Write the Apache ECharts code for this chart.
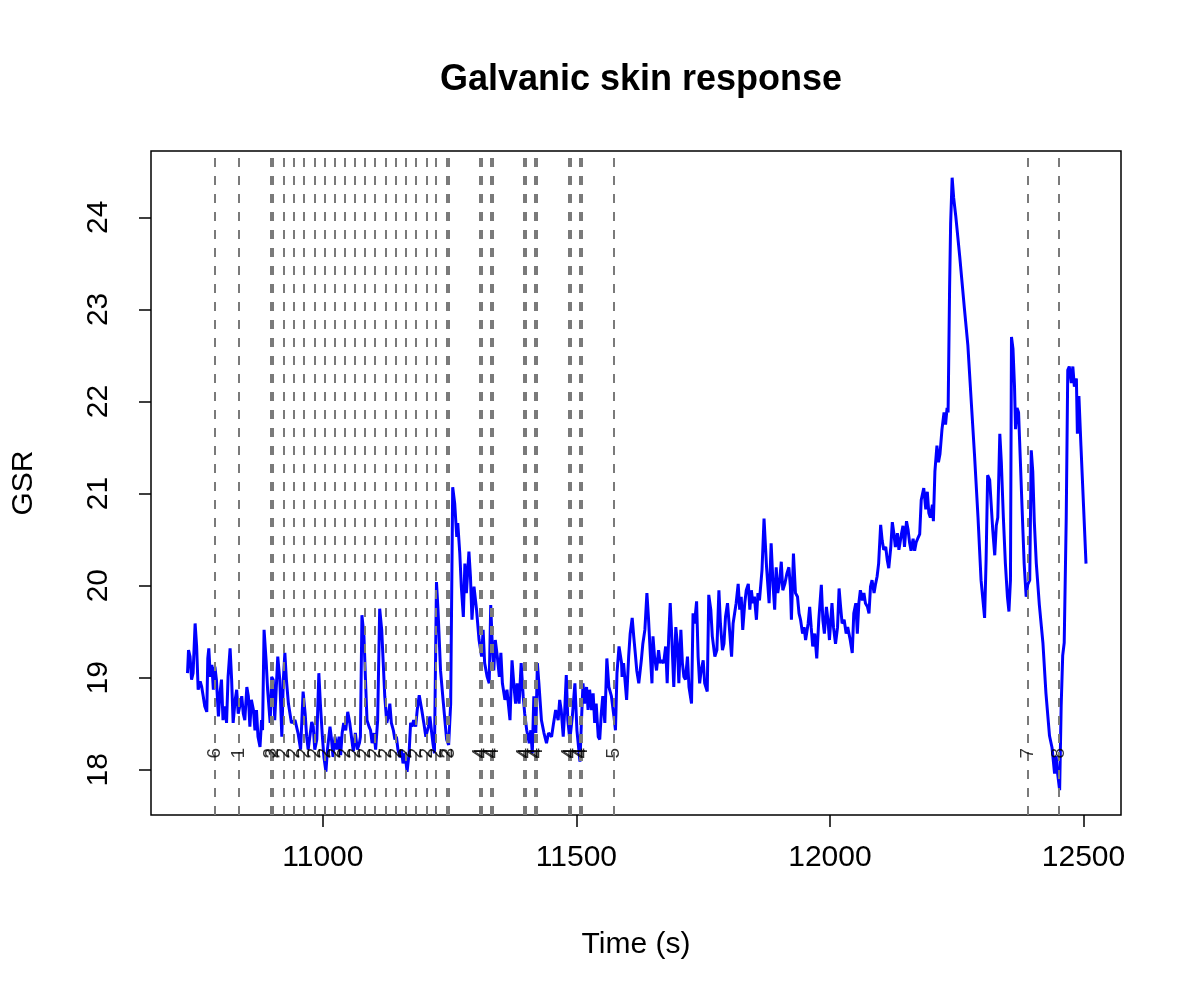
<!DOCTYPE html>
<html>
<head>
<meta charset="utf-8">
<title>Galvanic skin response</title>
<script src="https://cdn.jsdelivr.net/npm/echarts@6/dist/echarts.min.js"></script>
<style>
  html, body { margin: 0; padding: 0; background: #fff; }
  #chart { width: 1200px; height: 1004px; }
</style>
</head>
<body>
<div id="chart"></div>
<script>
// time in seconds, GSR
const times = [
  10733, 10735, 10738, 10741, 10744, 10748, 10751, 10754, 10758, 10761, 10764, 10767, 10771, 10773, 10775, 10778,
  10781, 10784, 10787, 10790, 10794, 10797, 10800, 10803, 10807, 10810, 10813, 10817, 10820, 10823, 10827, 10830,
  10833, 10836, 10840, 10843, 10846, 10850, 10853, 10856, 10859, 10863, 10866, 10869, 10872, 10876, 10879, 10881,
  10884, 10888, 10891, 10896, 10899, 10902, 10905, 10911, 10915, 10919, 10922, 10925, 10928, 10932, 10938, 10945,
  10951, 10956, 10961, 10965, 10968, 10971, 10978, 10981, 10984, 10988, 10992, 10995, 10999, 11002, 11006, 11009,
  11014, 11017, 11020, 11024, 11028, 11032, 11035, 11038, 11041, 11045, 11049, 11053, 11057, 11060, 11064, 11068,
  11072, 11074, 11077, 11081, 11084, 11087, 11091, 11094, 11097, 11101, 11104, 11108, 11112, 11116, 11119, 11122,
  11126, 11129, 11132, 11135, 11139, 11142, 11145, 11148, 11152, 11155, 11158, 11162, 11166, 11170, 11173, 11176,
  11179, 11183, 11186, 11190, 11195, 11199, 11203, 11208, 11211, 11214, 11217, 11220, 11224, 11227, 11232, 11237,
  11244, 11248, 11252, 11256, 11260, 11264, 11266, 11270, 11273, 11277, 11280, 11283, 11288, 11291, 11294, 11298,
  11303, 11308, 11313, 11316, 11319, 11324, 11328, 11331, 11334, 11337, 11340, 11344, 11348, 11351, 11354, 11359,
  11363, 11369, 11373, 11377, 11380, 11383, 11387, 11391, 11395, 11398, 11402, 11407, 11410, 11413, 11416, 11420,
  11423, 11426, 11431, 11436, 11441, 11445, 11451, 11455, 11459, 11464, 11467, 11470, 11474, 11477, 11480, 11483,
  11487, 11492, 11497, 11501, 11507, 11510, 11513, 11516, 11520, 11523, 11526, 11530, 11533, 11536, 11539, 11543,
  11546, 11549, 11552, 11556, 11560, 11564, 11569, 11574, 11577, 11580, 11584, 11589, 11590, 11593, 11599, 11603,
  11606, 11610, 11613, 11616, 11619, 11623, 11628, 11631, 11635, 11639, 11642, 11646, 11649, 11651, 11654, 11658,
  11662, 11665, 11668, 11672, 11676, 11679, 11682, 11685, 11688, 11692, 11696, 11699, 11702, 11706, 11709, 11712,
  11715, 11719, 11722, 11727, 11730, 11733, 11737, 11740, 11743, 11746, 11750, 11753, 11758, 11761, 11765, 11768,
  11773, 11777, 11781, 11784, 11788, 11791, 11794, 11798, 11802, 11806, 11809, 11812, 11815, 11819, 11822, 11825,
  11828, 11832, 11835, 11839, 11842, 11845, 11848, 11851, 11855, 11858, 11861, 11866, 11870, 11875, 11880, 11884,
  11888, 11891, 11894, 11897, 11901, 11904, 11907, 11911, 11915, 11919, 11922, 11924, 11928, 11932, 11936, 11939,
  11942, 11946, 11949, 11952, 11957, 11960, 11963, 11966, 11970, 11974, 11978, 11983, 11986, 11989, 11993, 11996,
  11999, 12004, 12007, 12011, 12015, 12018, 12021, 12024, 12028, 12032, 12035, 12040, 12044, 12047, 12051, 12054,
  12057, 12060, 12064, 12067, 12070, 12074, 12077, 12080, 12083, 12087, 12090, 12093, 12096, 12100, 12103, 12106,
  12110, 12113, 12116, 12120, 12123, 12126, 12129, 12133, 12136, 12141, 12144, 12147, 12151, 12154, 12157, 12160,
  12164, 12167, 12170, 12173, 12177, 12180, 12185, 12189, 12192, 12195, 12198, 12202, 12204, 12207, 12211, 12214,
  12217, 12221, 12225, 12228, 12231, 12233, 12236, 12238, 12241, 12244, 12248, 12256, 12265, 12272, 12279, 12285,
  12292, 12298, 12305, 12308, 12311, 12315, 12318, 12321, 12325, 12328, 12331, 12335, 12338, 12342, 12346, 12350,
  12353, 12356, 12358, 12361, 12364, 12366, 12369, 12372, 12375, 12379, 12383, 12387, 12390, 12394, 12397, 12400,
  12403, 12407, 12413, 12420, 12426, 12433, 12438, 12443, 12446, 12449, 12453, 12456, 12459, 12462, 12466, 12469,
  12472, 12476, 12479, 12482, 12486, 12488, 12491, 12495, 12500, 12505
]
const gsr = [
  19.05, 19.30, 19.23, 18.98, 19.05, 19.59, 19.34, 18.87, 18.96, 18.90, 18.80, 18.69, 18.63, 19.21, 19.32, 19.01,
  19.14, 18.87, 19.12, 18.98, 18.58, 18.83, 18.98, 18.54, 18.69, 18.51, 19.01, 19.32, 18.98, 18.51, 18.76, 18.87,
  18.61, 18.69, 18.80, 18.61, 18.54, 18.90, 18.80, 18.47, 18.76, 18.65, 18.43, 18.65, 18.36, 18.25, 18.54, 18.43,
  19.52, 19.19, 18.87, 18.51, 19.01, 18.98, 18.54, 19.23, 18.98, 18.36, 18.98, 19.27, 18.98, 18.72, 18.51, 18.54,
  18.40, 18.22, 18.85, 18.61, 18.36, 18.22, 18.52, 18.47, 18.22, 18.33, 19.05, 18.72, 18.36, 18.14, 17.98, 18.22,
  18.47, 18.33, 18.14, 18.36, 18.22, 18.36, 18.16, 18.40, 18.51, 18.43, 18.63, 18.51, 18.33, 18.20, 18.40, 18.22,
  18.29, 18.36, 19.68, 19.45, 18.98, 18.54, 18.47, 18.43, 18.29, 18.40, 18.22, 18.54, 19.75, 19.52, 19.16, 18.80,
  18.51, 18.58, 18.72, 18.51, 18.43, 18.33, 18.36, 18.22, 18.14, 18.22, 18.07, 18.18, 17.98, 18.18, 18.51, 18.47,
  18.54, 18.47, 18.65, 18.81, 18.65, 18.51, 18.36, 18.47, 18.58, 18.43, 18.29, 18.18, 20.04, 19.74, 19.08, 18.76,
  18.33, 18.27, 18.72, 21.07, 20.89, 20.53, 20.68, 20.35, 19.99, 19.66, 20.24, 19.92, 20.37, 20.10, 19.63, 19.99,
  19.74, 19.41, 19.23, 19.52, 19.16, 19.01, 18.94, 19.79, 19.37, 19.08, 19.41, 19.23, 19.01, 19.27, 18.94, 18.76,
  18.87, 18.54, 19.19, 18.90, 18.72, 18.94, 18.72, 19.16, 18.80, 18.61, 18.43, 18.29, 18.43, 18.18, 18.80, 18.40,
  19.16, 18.94, 18.54, 18.40, 18.29, 18.40, 18.36, 18.51, 18.65, 18.54, 18.76, 18.65, 18.36, 18.65, 19.03, 18.54,
  18.33, 18.58, 18.94, 18.43, 18.09, 18.54, 18.94, 18.72, 18.90, 18.65, 18.87, 18.65, 18.83, 18.51, 18.72, 18.36,
  18.33, 18.61, 18.80, 18.51, 19.21, 18.90, 18.80, 18.58, 18.43, 19.05, 19.34, 19.16, 19.01, 19.16, 18.76, 19.23,
  19.48, 19.65, 19.45, 19.27, 19.08, 18.94, 19.19, 19.37, 19.52, 19.92, 19.66, 19.23, 18.94, 19.45, 19.23, 19.08,
  19.30, 19.16, 19.19, 19.16, 19.34, 18.94, 19.45, 19.81, 19.45, 18.90, 19.55, 19.37, 18.94, 19.52, 19.16, 19.01,
  18.98, 19.23, 18.90, 18.72, 19.70, 19.59, 19.83, 19.23, 18.94, 19.08, 19.19, 18.94, 18.85, 19.90, 19.74, 19.45,
  19.23, 19.30, 19.95, 19.59, 19.30, 19.37, 19.66, 19.81, 19.52, 19.23, 19.59, 19.70, 19.81, 20.02, 19.74, 19.88,
  19.52, 19.81, 19.95, 20.02, 19.74, 19.95, 19.81, 19.88, 19.63, 19.92, 19.84, 20.17, 20.73, 20.20, 19.81, 20.46,
  19.99, 19.74, 20.20, 19.92, 20.06, 20.26, 19.95, 20.02, 20.13, 20.20, 19.99, 19.63, 20.35, 19.92, 19.88, 19.70,
  19.63, 19.48, 19.55, 19.41, 19.59, 19.77, 19.55, 19.34, 19.48, 19.21, 19.63, 20.01, 19.63, 19.48, 19.77, 19.63,
  19.41, 19.81, 19.55, 19.37, 19.55, 19.97, 19.77, 19.59, 19.63, 19.48, 19.55, 19.41, 19.27, 19.70, 19.81, 19.48,
  19.81, 19.95, 19.84, 19.92, 19.81, 19.77, 19.70, 19.99, 20.06, 19.92, 20.02, 20.10, 20.24, 20.66, 20.49, 20.39,
  20.42, 20.28, 20.19, 20.42, 20.69, 20.57, 20.42, 20.57, 20.39, 20.56, 20.65, 20.42, 20.70, 20.61, 20.47, 20.38,
  20.51, 20.38, 20.47, 20.51, 20.56, 20.93, 21.06, 20.83, 21.02, 20.79, 20.74, 20.88, 20.70, 21.24, 21.52, 21.34,
  21.43, 21.70, 21.88, 21.75, 21.93, 21.88, 23.25, 23.93, 24.43, 24.21, 24.02, 23.57, 23.02, 22.61, 21.97, 21.43,
  20.74, 20.06, 19.65, 20.29, 21.20, 21.15, 20.88, 20.61, 20.33, 20.65, 20.74, 21.65, 21.34, 20.74, 20.24, 19.88,
  19.72, 20.06, 22.70, 22.57, 22.16, 21.70, 21.93, 21.88, 21.43, 20.83, 20.24, 19.88, 20.01, 20.06, 21.47, 21.24,
  20.70, 20.24, 19.79, 19.38, 18.83, 18.37, 18.24, 17.96, 18.15, 17.96, 17.78, 18.69, 19.24, 19.38, 20.74, 22.34,
  22.38, 22.20, 22.38, 22.16, 22.25, 21.65, 22.06, 21.52, 20.88, 20.24
]

// event markers (vertical dashed lines) and their codes
const eventTimes = [
  10786, 10834, 10897, 10902, 10923, 10943, 10963, 10983, 11003, 11023, 11043, 11063, 11083, 11103, 11124,
  11143, 11164, 11183, 11204, 11223, 11244, 11249, 11309, 11313, 11331, 11335, 11396, 11400, 11418, 11422,
  11485, 11489, 11507, 11511, 11574, 12390, 12451
]
const eventLabels = [
  '6', '1', '3', '2', '2', '2', '2', '2', '2', '2', '2', '2', '2', '2', '2',
  '2', '2', '2', '2', '2', '2', '3', '4', '4', '4', '4', '4', '4', '4', '4',
  '4', '4', '4', '4', '5', '7', '8'
]
const eventLabelY = 18.18

const xTicks = [11000, 11500, 12000, 12500]
const yTicks = [18, 19, 20, 21, 22, 23, 24]

const FONT = "'Liberation Sans', Arial, Helvetica, sans-serif"

const chart = echarts.init(document.getElementById('chart'), null, { renderer: 'canvas' })

const option = {
  animation: false,
  backgroundColor: '#ffffff',
  textStyle: { fontFamily: FONT },
  title: {
    text: 'Galvanic skin response',
    left: 636,
    top: 57,
    textAlign: 'center',
    textStyle: { fontFamily: FONT, fontSize: 36, fontWeight: 'bold', color: '#000' },
  },
  grid: {
    left: 151,
    top: 151,
    width: 970,
    height: 664,
    show: true,
    borderColor: '#000',
    borderWidth: 1.5,
    backgroundColor: 'transparent',
  },
  xAxis: {
    type: 'value',
    min: 10661,
    max: 12574,
    name: 'Time (s)',
    nameLocation: 'middle',
    nameGap: 115,
    nameTextStyle: { fontFamily: FONT, fontSize: 30, color: '#000' },
    axisLine: { show: false },
    axisTick: {
      show: true,
      customValues: xTicks,
      length: 12,
      lineStyle: { color: '#000', width: 1.5 },
    },
    axisLabel: {
      customValues: xTicks,
      formatter: (v) => String(v),
      margin: 28,
      fontFamily: FONT,
      fontSize: 30,
      color: '#000',
    },
    splitLine: { show: false },
  },
  yAxis: {
    type: 'value',
    min: 17.51,
    max: 24.72,
    name: 'GSR',
    nameLocation: 'middle',
    nameGap: 112,
    nameTextStyle: { fontFamily: FONT, fontSize: 30, color: '#000' },
    axisLine: { show: false },
    axisTick: {
      show: true,
      customValues: yTicks,
      length: 12,
      lineStyle: { color: '#000', width: 1.5 },
    },
    axisLabel: {
      customValues: yTicks,
      formatter: (v) => String(v),
      rotate: 90,
      margin: 37,
      fontFamily: FONT,
      fontSize: 30,
      color: '#000',
    },
    splitLine: { show: false },
  },
  series: [
    {
      name: 'GSR',
      type: 'line',
      data: times.map((t, i) => [t, gsr[i]]),
      showSymbol: false,
      symbol: 'none',
      lineStyle: { color: '#0000ff', width: 3 },
      z: 2,
    },
    {
      name: 'events',
      type: 'line',
      data: [],
      z: 3,
      markLine: {
        silent: true,
        symbol: 'none',
        animation: false,
        label: { show: false },
        lineStyle: { color: '#7a7a7a', width: 2, type: [9, 9] },
        data: eventTimes.map((t) => ({ xAxis: t })),
      },
    },
    {
      name: 'event codes',
      type: 'scatter',
      data: eventTimes.map((t) => [t, eventLabelY]),
      symbolSize: 0,
      z: 10,
      silent: true,
      label: {
        show: true,
        position: 'inside',
        rotate: 90,
        fontFamily: FONT,
        fontSize: 19,
        color: '#000',
        formatter: (p) => eventLabels[p.dataIndex],
      },
    },
  ],
}

chart.setOption(option)
</script>
</body>
</html>
